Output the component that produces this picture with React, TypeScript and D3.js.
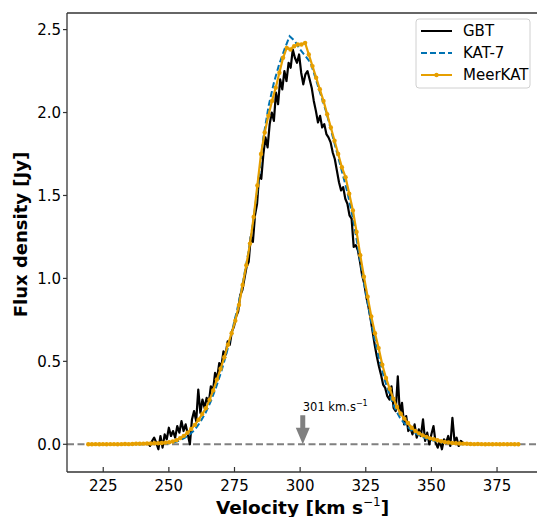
import React from "react";
import * as d3 from "d3";

// ---------- DATA ----------
const gbtStart = 242.0;
const gbtStep = 0.8;
const gbtFlux = [
  0.01, -0.01, 0.02, 0.04, 0.01, -0.03, 0.05, -0.02, 0.06, 0.03,
  0.10, 0.05, 0.08, 0.04, 0.11, 0.07, 0.14, 0.08, 0.12, 0.06,
  0.00, 0.15, 0.20, 0.14, 0.33, 0.19, 0.27, 0.22, 0.28, 0.25,
  0.35, 0.32, 0.43, 0.40, 0.49, 0.47, 0.56, 0.54, 0.62, 0.60,
  0.68, 0.71, 0.77, 0.80, 0.90, 0.93, 1.00, 1.07, 1.10, 1.25,
  1.22, 1.38, 1.45, 1.63, 1.60, 1.75, 1.85, 1.79, 1.93, 2.00,
  1.95, 2.12, 2.05, 2.20, 2.14, 2.25, 2.19, 2.30, 2.27, 2.38,
  2.33, 2.30, 2.35, 2.24, 2.17, 2.23, 2.25, 2.20, 2.15, 2.07,
  2.01, 1.94, 1.98, 1.91, 1.93, 1.87, 1.85, 1.82, 1.76, 1.72,
  1.65, 1.58, 1.53, 1.55, 1.48, 1.45, 1.38, 1.36, 1.19, 1.20,
  1.17, 1.10, 1.02, 0.97, 0.89, 0.83, 0.76, 0.68, 0.60, 0.53,
  0.47, 0.42, 0.36, 0.34, 0.29, 0.27, 0.35, 0.22, 0.20, 0.41,
  0.18, 0.25, 0.12, 0.17, 0.08, 0.10, 0.06, 0.12, 0.04, 0.09,
  0.05, 0.15, 0.02, 0.07, 0.00, 0.06, 0.11, 0.01, -0.02, 0.02,
  -0.03, 0.03, 0.01, 0.05, -0.01, 0.16, 0.02, 0.04, -0.01, 0.02,
  0.01,
];

const katStart = 238.0;
const katStep = 2.0;
const katFlux = [
  0.000, 0.001, 0.002, 0.003, 0.004, 0.005, 0.007, 0.012, 0.022, 0.038,
  0.060, 0.090, 0.135, 0.190, 0.260, 0.345, 0.44, 0.55, 0.68, 0.81,
  0.96, 1.13, 1.33, 1.57, 1.85, 2.04, 2.18, 2.29, 2.38, 2.46,
  2.43, 2.38, 2.34, 2.30, 2.20, 2.10, 2.00, 1.88, 1.76, 1.64,
  1.52, 1.37, 1.19, 1.00, 0.83, 0.66, 0.52, 0.40, 0.30, 0.22,
  0.16, 0.12, 0.09, 0.065, 0.048, 0.035, 0.025, 0.018, 0.012, 0.008,
  0.005, 0.003, 0.001,
];

const meerStart = 219.3;
const meerStep = 1.4;
const meerFlux = [
  0.000, 0.000, 0.001, 0.000, 0.001, 0.000, 0.001, 0.001, 0.000, 0.001,
  0.002, 0.001, 0.002, 0.003, 0.003, 0.004, 0.005, 0.005, 0.006, 0.006,
  0.008, 0.010, 0.012, 0.017, 0.025, 0.037, 0.051, 0.070, 0.092, 0.117,
  0.148, 0.182, 0.218, 0.268, 0.325, 0.39, 0.455, 0.525, 0.600, 0.670,
  0.745, 0.84, 0.96, 1.08, 1.21, 1.37, 1.56, 1.75, 1.88, 1.98,
  2.07, 2.15, 2.24, 2.33, 2.39, 2.38, 2.40, 2.41, 2.41, 2.42,
  2.35, 2.28, 2.21, 2.14, 2.07, 1.99, 1.91, 1.83, 1.75, 1.67,
  1.61, 1.51, 1.41, 1.28, 1.14, 1.01, 0.89, 0.77, 0.67, 0.58,
  0.48, 0.40, 0.335, 0.275, 0.225, 0.185, 0.155, 0.128, 0.100, 0.080,
  0.066, 0.054, 0.045, 0.036, 0.030, 0.024, 0.018, 0.014, 0.011, 0.008,
  0.006, 0.005, 0.004, 0.003, 0.002, 0.001, 0.002, 0.001, 0.000, 0.001,
  0.000, 0.001, 0.000, 0.001, 0.000, 0.001, 0.000, 0.000,
];

const xTicks = [225, 250, 275, 300, 325, 350, 375];
const yTicks = [0.0, 0.5, 1.0, 1.5, 2.0, 2.5];
const seriesNames = ["GBT", "KAT-7", "MeerKAT"];
const systemicVelocity = 301;
const xLimits = [211.2, 390.6];
const yLimits = [-0.167, 2.6];

// ---------- LAYOUT ----------
const W = 537;
const H = 517;
const M = { left: 67, top: 13, right: 538, bottom: 472 };
const FONT = "DejaVu Sans, sans-serif";
const COLORS = { gbt: "#000000", kat: "#0072B2", meer: "#E69F00", zero: "#808080" };

type Pt = { v: number; f: number };
const toPts = (start: number, step: number, vals: number[]): Pt[] =>
  vals.map((f, i) => ({ v: start + step * i, f }));

export default function App() {
  const x = d3.scaleLinear().domain(xLimits).range([M.left, M.right]);
  const y = d3.scaleLinear().domain(yLimits).range([M.bottom, M.top]);
  const line = d3
    .line<Pt>()
    .x((d) => x(d.v))
    .y((d) => y(d.f));

  const gbt = toPts(gbtStart, gbtStep, gbtFlux);
  const kat = toPts(katStart, katStep, katFlux);
  const meer = toPts(meerStart, meerStep, meerFlux);

  const ax = x(systemicVelocity);
  const tipY = y(0);
  const headY = y(0.1);
  const topY = y(0.175);

  const legendX = 416;
  const legendY = 19;
  const rowH = 22;

  return (
    <svg
      width={W}
      height={H}
      style={{ position: "absolute", left: 0, top: 0, background: "#fff" }}
      fontFamily={FONT}
    >
      <defs>
        <clipPath id="plotclip">
          <rect x={M.left} y={M.top} width={M.right - M.left} height={M.bottom - M.top} />
        </clipPath>
      </defs>
      <rect x={0} y={0} width={W} height={H} fill="#fff" />

      <g clipPath="url(#plotclip)">
        {/* zero line */}
        <line
          x1={M.left}
          x2={M.right}
          y1={y(0)}
          y2={y(0)}
          stroke={COLORS.zero}
          strokeWidth={2}
          strokeDasharray="7,3.5"
        />
        {/* arrow */}
        <path
          d={`M${ax - 2.5},${topY} L${ax + 2.5},${topY} L${ax + 2.5},${headY} L${ax + 7},${headY} L${ax},${tipY} L${ax - 7},${headY} L${ax - 2.5},${headY} Z`}
          fill={COLORS.zero}
        />
        <path d={line(gbt) || ""} fill="none" stroke={COLORS.gbt} strokeWidth={2.2} strokeLinejoin="round" />
        <path
          d={line(kat) || ""}
          fill="none"
          stroke={COLORS.kat}
          strokeWidth={2}
          strokeDasharray="6,3"
        />
        <path d={line(meer) || ""} fill="none" stroke={COLORS.meer} strokeWidth={2.2} strokeLinejoin="round" />
        {meer.map((d, i) => (
          <circle key={i} cx={x(d.v)} cy={y(d.f)} r={2.2} fill={COLORS.meer} />
        ))}
      </g>

      {/* annotation */}
      <text x={ax} y={411} fontSize={11.5} fill="#000">
        {systemicVelocity} km.s
        <tspan fontSize={8} dy={-5}>−1</tspan>
      </text>

      {/* spines */}
      <line x1={M.left} x2={M.left} y1={M.top} y2={M.bottom} stroke="#333" strokeWidth={1.3} />
      <line x1={M.left} x2={M.right} y1={M.bottom} y2={M.bottom} stroke="#333" strokeWidth={1.3} />
      <line x1={M.left} x2={M.right} y1={M.top} y2={M.top} stroke="#333" strokeWidth={1.3} />

      {/* x ticks */}
      {xTicks.map((t) => (
        <g key={t}>
          <line x1={x(t)} x2={x(t)} y1={M.bottom} y2={M.bottom - 5} stroke="#333" strokeWidth={1.2} />
          <text x={x(t)} y={491} fontSize={15} textAnchor="middle" fill="#000">
            {t}
          </text>
        </g>
      ))}
      {/* y ticks */}
      {yTicks.map((t) => (
        <g key={t}>
          <line x1={M.left} x2={M.left - 4} y1={y(t)} y2={y(t)} stroke="#333" strokeWidth={1.2} />
          <text x={61} y={y(t)} dy="0.36em" fontSize={15} textAnchor="end" fill="#000">
            {t.toFixed(1)}
          </text>
        </g>
      ))}

      {/* axis labels */}
      <text x={(M.left + M.right) / 2} y={514} fontSize={18.5} fontWeight="bold" textAnchor="middle" fill="#000">
        Velocity [km s
        <tspan fontSize={12} fontWeight="normal" dy={-8}>−1</tspan>
        <tspan dy={8}>]</tspan>
      </text>
      <text
        transform={`translate(27,${(M.top + M.bottom) / 2 - 8}) rotate(-90)`}
        fontSize={18}
        fontWeight="bold"
        textAnchor="middle"
        fill="#000"
      >
        Flux density [Jy]
      </text>

      {/* legend */}
      <rect
        x={legendX}
        y={legendY}
        width={114}
        height={69}
        rx={3}
        fill="#fff"
        fillOpacity={0.8}
        stroke="#d0d0d0"
        strokeWidth={1}
      />
      {seriesNames.map((name, i) => {
        const cy = legendY + 12 + rowH * i;
        const color = i === 0 ? COLORS.gbt : i === 1 ? COLORS.kat : COLORS.meer;
        return (
          <g key={name}>
            <line
              x1={legendX + 5}
              x2={legendX + 36}
              y1={cy}
              y2={cy}
              stroke={color}
              strokeWidth={2}
              strokeDasharray={i === 1 ? "6,3" : undefined}
            />
            {i === 2 && <circle cx={legendX + 20.5} cy={cy} r={2.2} fill={color} />}
            <text x={legendX + 47} y={cy} dy="0.36em" fontSize={15} fill="#000">
              {name}
            </text>
          </g>
        );
      })}
    </svg>
  );
}
